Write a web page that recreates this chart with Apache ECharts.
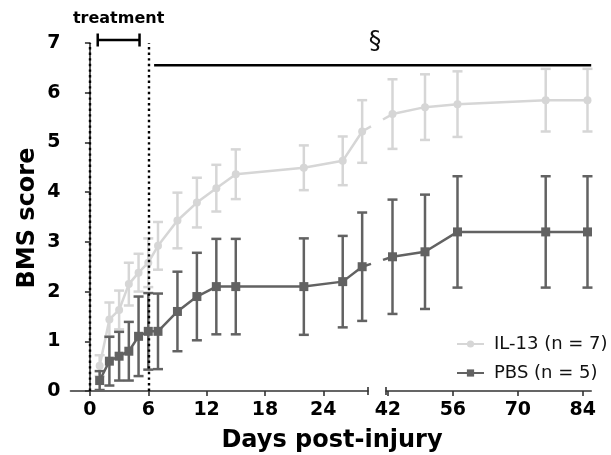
<!DOCTYPE html>
<html>
<head>
<meta charset="utf-8">
<script src="https://cdn.jsdelivr.net/npm/echarts@6/dist/echarts.min.js"></script>
<style>
  html, body { margin: 0; padding: 0; background: #fff; }
  #chart { width: 611px; height: 455px; }
</style>
</head>
<body>
<div id="chart"></div>
<script>
// BMS score after spinal cord injury, mean ± SEM per group
const days     = [1, 2, 3, 4, 5, 6, 7, 9, 11, 13, 15, 22, 26, 28, 43, 50, 57, 76, 85];
const il13Mean = [0.51, 1.44, 1.63, 2.15, 2.38, 2.58, 2.92, 3.43, 3.79, 4.08, 4.36, 4.49, 4.63, 5.22, 5.57, 5.71, 5.77, 5.85, 5.85];
const il13Sem  = [0.21, 0.34, 0.39, 0.43, 0.38, 0.49, 0.48, 0.56, 0.50, 0.47, 0.50, 0.45, 0.49, 0.63, 0.70, 0.66, 0.66, 0.63, 0.63];
const pbsMean  = [0.21, 0.60, 0.70, 0.80, 1.10, 1.20, 1.20, 1.60, 1.90, 2.10, 2.10, 2.10, 2.20, 2.50, 2.70, 2.80, 3.20, 3.20, 3.20];
const pbsSem   = [0.19, 0.49, 0.49, 0.59, 0.80, 0.77, 0.76, 0.80, 0.88, 0.96, 0.96, 0.97, 0.92, 1.09, 1.15, 1.15, 1.12, 1.12, 1.12];

const leftTicks  = [0, 6, 12, 18, 24];
const rightTicks = [42, 56, 70, 84];
const yTicksMax  = 7;

const seriesNames = ['IL-13 (n = 7)', 'PBS (n = 5)'];
const treatmentDays = [0.8, 5.1];   // treatment window
const treatmentMarks = [0, 6];      // dotted reference days
const sigStart = 6.6, sigEnd = 85.8, sigLevel = 6.55;
const breakStart = 28.6, breakEnd = 41.6;

const IL_COLOR = '#d6d6d6';
const PBS_COLOR = '#626262';
const FONT = 'DejaVu Sans';

function split(mean, sem) {
  const left = [], right = [], leftErr = [], rightErr = [];
  days.forEach((d, i) => {
    const p = [d, mean[i]];
    const e = [d, mean[i] - sem[i], mean[i] + sem[i]];
    if (d < breakStart) { left.push(p); leftErr.push(e); }
    else { right.push(p); rightErr.push(e); }
  });
  return { left, right, leftErr, rightErr };
}
const il = split(il13Mean, il13Sem);
const pb = split(pbsMean, pbsSem);

function errorBars(color) {
  return function (params, api) {
    const x = api.value(0);
    const lo = api.coord([x, api.value(1)]);
    const hi = api.coord([x, api.value(2)]);
    const w = 5;
    const style = { stroke: color, lineWidth: 2.5, fill: null };
    return {
      type: 'group',
      children: [
        { type: 'line', shape: { x1: hi[0], y1: hi[1], x2: lo[0], y2: lo[1] }, style },
        { type: 'line', shape: { x1: hi[0] - w, y1: hi[1], x2: hi[0] + w, y2: hi[1] }, style },
        { type: 'line', shape: { x1: lo[0] - w, y1: lo[1], x2: lo[0] + w, y2: lo[1] }, style }
      ]
    };
  };
}

const axisLineStyle = { color: '#333', width: 1.6 };
const tickLabel = { fontFamily: FONT, fontWeight: 'bold', fontSize: 19, color: '#000' };

function lineSeries(name, data, color, symbol, size, gridIdx, z) {
  return {
    name, type: 'line', data, xAxisIndex: gridIdx, yAxisIndex: gridIdx,
    symbol, symbolSize: size, showSymbol: true,
    itemStyle: { color }, lineStyle: { color, width: 2.5 },
    emphasis: { disabled: true }, animation: false, z, clip: false
  };
}
function errSeries(name, data, color, gridIdx, z) {
  return {
    name, type: 'custom', data, xAxisIndex: gridIdx, yAxisIndex: gridIdx,
    itemStyle: { color },
    renderItem: errorBars(color), animation: false, z, silent: true
  };
}

const chart = echarts.init(document.getElementById('chart'), null, { renderer: 'canvas' });

const option = {
  backgroundColor: '#fff',
  animation: false,
  grid: [
    { left: 70.5, top: 43, width: 297.5, height: 348 },
    { left: 386, top: 43, width: 205.2, height: 348 }
  ],
  xAxis: [
    {
      type: 'value', gridIndex: 0, min: -2, max: breakStart,
      axisLine: { show: true, lineStyle: axisLineStyle },
      axisTick: { show: true, length: 5, lineStyle: axisLineStyle, customValues: leftTicks },
      axisLabel: Object.assign({ margin: 10, customValues: leftTicks }, tickLabel),
      splitLine: { show: false }
    },
    {
      type: 'value', gridIndex: 1, min: breakEnd, max: sigEnd,
      axisLine: { show: true, lineStyle: axisLineStyle },
      axisTick: { show: true, length: 5, lineStyle: axisLineStyle, customValues: rightTicks },
      axisLabel: Object.assign({ margin: 10, customValues: rightTicks }, tickLabel),
      splitLine: { show: false }
    }
  ],
  yAxis: [
    {
      type: 'value', gridIndex: 0, min: 0, max: yTicksMax, interval: 1,
      axisLine: { show: true, lineStyle: axisLineStyle },
      axisTick: { show: true, length: 5, lineStyle: axisLineStyle },
      axisLabel: Object.assign({ margin: 10 }, tickLabel),
      splitLine: { show: false }
    },
    { type: 'value', gridIndex: 1, min: 0, max: yTicksMax, show: false, splitLine: { show: false } }
  ],
  legend: {
    data: seriesNames,
    orient: 'vertical', left: 451, top: 330,
    itemWidth: 27, itemHeight: 9, itemGap: 11,
    textStyle: { fontFamily: FONT, fontSize: 18, color: '#111', padding: [0, 0, 0, 5] },
    selectedMode: false
  },
  series: [
    lineSeries(seriesNames[0], il.left, IL_COLOR, 'circle', 8, 0, 3),
    errSeries(seriesNames[0], il.leftErr, IL_COLOR, 0, 2),
    lineSeries(seriesNames[0], il.right, IL_COLOR, 'circle', 8, 1, 3),
    errSeries(seriesNames[0], il.rightErr, IL_COLOR, 1, 2),
    Object.assign(lineSeries(seriesNames[1], pb.left, PBS_COLOR, 'rect', 9, 0, 5), {
      markLine: {
        silent: true, symbol: 'none', animation: false,
        label: { show: false },
        lineStyle: { color: '#000', width: 2.4, type: [2.4, 3.2] },
        data: treatmentMarks.map(d => ({ xAxis: d }))
      }
    }),
    errSeries(seriesNames[1], pb.leftErr, PBS_COLOR, 0, 4),
    lineSeries(seriesNames[1], pb.right, PBS_COLOR, 'rect', 9, 1, 5),
    errSeries(seriesNames[1], pb.rightErr, PBS_COLOR, 1, 4)
  ]
};
chart.setOption(option);

// Overlay: axis break caps, bridging segments, annotations and axis titles
function px(grid, x, y) {
  return chart.convertToPixel({ xAxisIndex: grid, yAxisIndex: grid }, [x, y]);
}
const g = [];
const black = { stroke: '#000', lineWidth: 2.5 };

// break caps on the x axis
const capL = px(0, breakStart, 0), capR = px(1, breakEnd, 0);
[capL, capR].forEach(p => g.push({
  type: 'line', z: 10, shape: { x1: p[0], y1: p[1] - 4, x2: p[0], y2: p[1] + 4 },
  style: { stroke: '#333', lineWidth: 1.6 }
}));

// lines running across the axis break
function bridge(mean, color) {
  const iA = days.indexOf(28), iB = iA + 1;
  const a = px(0, days[iA], mean[iA]);
  const b = px(1, days[iB], mean[iB]);
  const at = x => [x, a[1] + (b[1] - a[1]) * (x - a[0]) / (b[0] - a[0])];
  const e1 = at(capL[0] + 3), e2 = at(capR[0] - 3);
  const st = { stroke: color, lineWidth: 2.5 };
  g.push({ type: 'line', z: 3, shape: { x1: a[0], y1: a[1], x2: e1[0], y2: e1[1] }, style: st });
  g.push({ type: 'line', z: 3, shape: { x1: e2[0], y1: e2[1], x2: b[0], y2: b[1] }, style: st });
}
bridge(il13Mean, IL_COLOR);
bridge(pbsMean, PBS_COLOR);

// significance bar
const s1 = px(0, sigStart, sigLevel), s2 = px(1, sigEnd, sigLevel);
g.push({ type: 'line', z: 10, shape: { x1: s1[0], y1: s1[1], x2: s2[0], y2: s2[1] }, style: black });
g.push({
  type: 'text', z: 10, x: 375, y: s1[1] - 24,
  style: { text: '§', font: '25px ' + FONT, fill: '#111', align: 'center', verticalAlign: 'middle' }
});

// treatment bracket
const t1 = px(0, treatmentDays[0], 7), t2 = px(0, treatmentDays[1], 7);
const ty = t1[1] - 3;
g.push({ type: 'line', z: 10, shape: { x1: t1[0], y1: ty, x2: t2[0], y2: ty }, style: black });
[t1[0], t2[0]].forEach(x => g.push({
  type: 'line', z: 10, shape: { x1: x, y1: ty - 6.5, x2: x, y2: ty + 6.5 }, style: black
}));
g.push({
  type: 'text', z: 10, x: (t1[0] + t2[0]) / 2, y: ty - 21,
  style: { text: 'treatment', font: 'bold 16px ' + FONT, fill: '#000', align: 'center', verticalAlign: 'middle' }
});

// axis titles
g.push({
  type: 'text', z: 10, x: 332, y: 441,
  style: { text: 'Days post-injury', font: 'bold 24px ' + FONT, fill: '#000', align: 'center', verticalAlign: 'middle' }
});
g.push({
  type: 'text', z: 10, x: 28, y: 218, rotation: Math.PI / 2,
  style: { text: 'BMS score', font: 'bold 24px ' + FONT, fill: '#000', align: 'center', verticalAlign: 'middle' }
});

chart.setOption({ graphic: g });
</script>
</body>
</html>
